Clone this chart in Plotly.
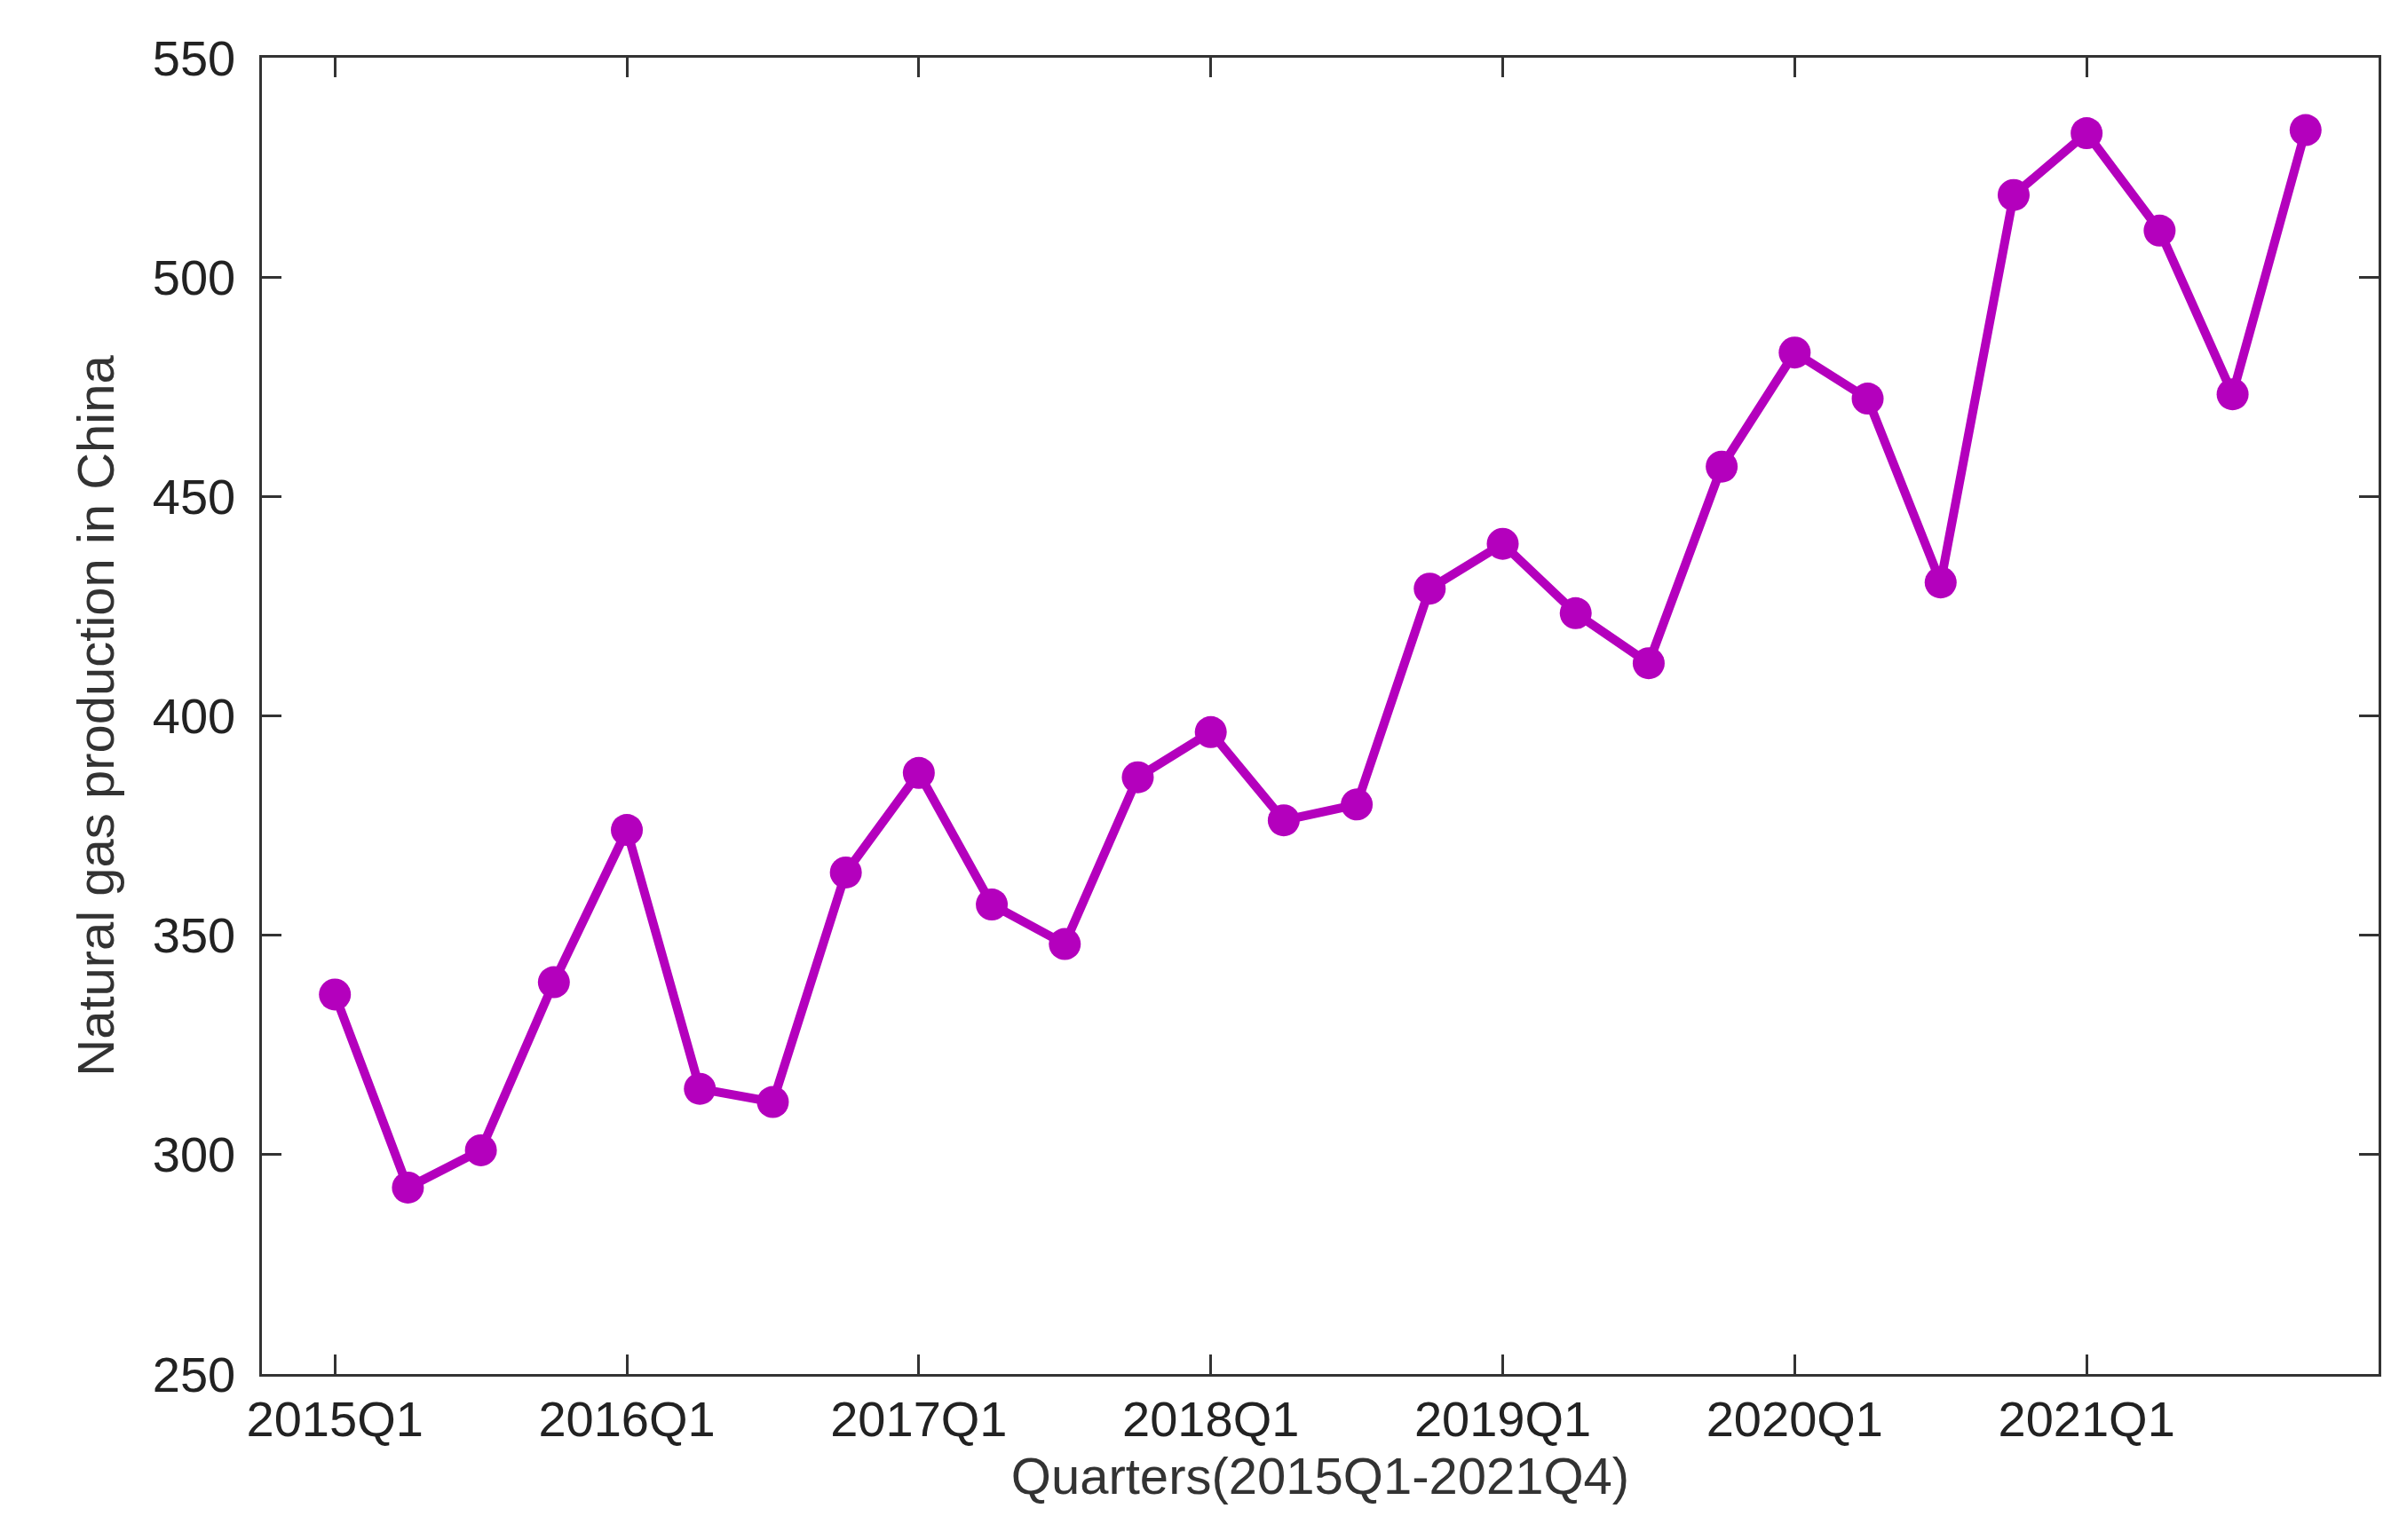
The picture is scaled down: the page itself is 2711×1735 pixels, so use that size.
import plotly.graph_objects as go

quarters = [f"{y}Q{q}" for y in range(2015, 2022) for q in range(1, 5)]
values = [336.5, 292.5, 301, 339.3, 374, 315, 312, 364.3, 387, 357, 348, 386,
          396.3, 376.2, 379.8, 429, 439.2, 423.4, 412, 456.8, 482.8, 472.3, 430.4, 518.7,
          532.8, 510.6, 473.3, 533.5]
tick_labels = ["2015Q1", "2016Q1", "2017Q1", "2018Q1", "2019Q1", "2020Q1", "2021Q1"]

xs = list(range(len(quarters)))
color = "#b400bd"
fig = go.Figure(go.Scatter(x=xs, y=values, mode="lines+markers",
                           line=dict(color=color, width=10),
                           marker=dict(color=color, size=36, symbol="circle"),
                           text=quarters))
axis_common = dict(showline=True, linecolor="#333", linewidth=3, mirror="ticks",
                   ticks="inside", ticklen=22, tickwidth=3, tickcolor="#333",
                   showgrid=False, zeroline=False,
                   tickfont=dict(family="Liberation Sans, Arial", size=56, color="#222"))
fig.update_xaxes(range=[-1, 28], tickvals=[quarters.index(t) for t in tick_labels],
                 ticktext=tick_labels,
                 title=dict(text="Quarters(2015Q1-2021Q4)", standoff=8,
                            font=dict(family="Liberation Sans, Arial", size=58, color="#333")),
                 **axis_common)
fig.update_yaxes(range=[250, 550], dtick=50, ticksuffix=" ",
                 title=dict(text="Natural gas production in China", standoff=25,
                            font=dict(family="Liberation Sans, Arial", size=58, color="#333")),
                 **axis_common)
fig.update_layout(width=2711, height=1735, plot_bgcolor="white", paper_bgcolor="white",
                  margin=dict(l=287, r=40, t=57, b=195), showlegend=False)
fig.write_html("out.html")
